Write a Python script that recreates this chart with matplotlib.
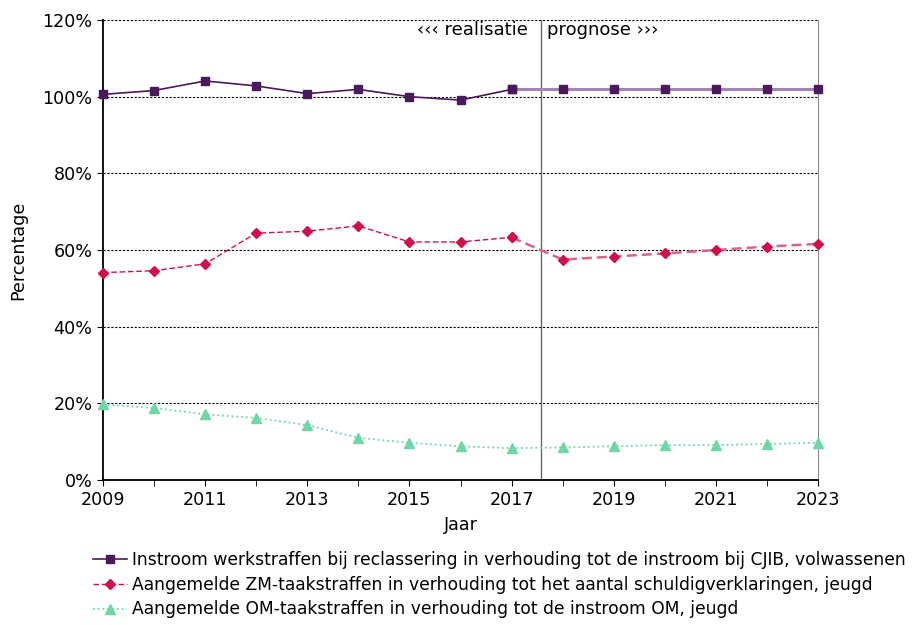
import numpy as np
import matplotlib.pyplot as plt
from matplotlib.ticker import MultipleLocator, FuncFormatter

years = np.arange(2009, 2024)
volwassenen = [100.6, 101.6, 104.1, 102.8, 100.8, 101.9, 100.0, 99.1, 101.9,
               101.9, 101.9, 101.9, 101.9, 101.9, 101.9]
zm_jeugd = [54.1, 54.6, 56.4, 64.4, 64.9, 66.3, 62.1, 62.1, 63.3,
            57.5, 58.3, 59.1, 60.0, 60.9, 61.6]
om_jeugd = [19.7, 18.8, 17.1, 16.2, 14.3, 11.0, 9.7, 8.8, 8.3,
            8.5, 8.8, 9.1, 9.1, 9.4, 9.7]
labels = ['Instroom werkstraffen bij reclassering in verhouding tot de instroom bij CJIB, volwassenen',
          'Aangemelde ZM-taakstraffen in verhouding tot het aantal schuldigverklaringen, jeugd',
          'Aangemelde OM-taakstraffen in verhouding tot de instroom OM, jeugd']
split_year = 2017.58
last_real = 9  # index after 2017

plt.rcParams['font.family'] = ['DejaVu Sans']
fs = 12.6

fig = plt.figure(figsize=(9.13, 6.25), dpi=100)
ax = fig.add_axes([103 / 913, 145 / 625, 715 / 913, 460 / 625])

# volwassenen
ax.plot(years[:last_real], volwassenen[:last_real], '-', color='#4a1a5c', lw=1.2,
        marker='s', ms=5.5, label=labels[0], zorder=4, clip_on=False)
ax.plot(years[last_real - 1:], volwassenen[last_real - 1:], '-', color='#a184b3', lw=2.2, zorder=3)
ax.plot(years[last_real - 1:], volwassenen[last_real - 1:], 's', color='#4a1a5c', ms=5.5, zorder=4,
        clip_on=False)

# ZM jeugd
ax.plot(years[:last_real], zm_jeugd[:last_real], '--', color='#d0104a', lw=1.0, dashes=(4, 2),
        marker='D', ms=4.8, label=labels[1], zorder=4, clip_on=False)
ax.plot(years[last_real - 1:], zm_jeugd[last_real - 1:], '--', color='#e0608a', lw=1.8,
        dashes=(4, 2), zorder=3)
ax.plot(years[last_real - 1:], zm_jeugd[last_real - 1:], 'D', color='#d0104a', ms=4.8, zorder=4,
        clip_on=False)

# OM jeugd
ax.plot(years, om_jeugd, ':', color='#6fd6a8', lw=1.3, marker='^', ms=6.5,
        label=labels[2], zorder=4, clip_on=False)

ax.set_xlim(2009, 2023)
ax.set_ylim(0, 120)
ax.set_xticks(years[::2])
ax.set_xticks(years, minor=True)
ax.yaxis.set_major_locator(MultipleLocator(20))
ax.yaxis.set_major_formatter(FuncFormatter(lambda v, p: f'{v:.0f}%'))
ax.tick_params(axis='both', which='major', direction='out', length=4, labelsize=fs)
ax.tick_params(axis='x', which='minor', direction='out', length=4)
ax.tick_params(axis='x', pad=4)

for y in range(20, 121, 20):
    ax.axhline(y, color='black', lw=0.8, ls=(0, (2, 1.5)), zorder=1)

ax.spines['top'].set_visible(False)
ax.spines['right'].set_color('#888888')
ax.spines['left'].set_linewidth(1.3)
ax.spines['bottom'].set_linewidth(1.3)

ax.axvline(split_year, color='#666666', lw=1, zorder=2)
ax.text(split_year - 0.27, 117.3, '‹‹‹ realisatie', ha='right', va='center', fontsize=fs + 0.4)
ax.text(split_year + 0.12, 117.3, 'prognose ›››', ha='left', va='center', fontsize=fs + 0.4)

ax.set_xlabel('Jaar', fontsize=fs, labelpad=5)
ax.set_ylabel('Percentage', fontsize=fs, labelpad=11)

fig.legend(loc='upper left', bbox_to_anchor=(86 / 913, 1 - 544 / 625), frameon=False,
           fontsize=12.3, handlelength=2.0, handletextpad=0.3, labelspacing=0.4,
           borderaxespad=0)

fig.savefig('out.png', dpi=100)
